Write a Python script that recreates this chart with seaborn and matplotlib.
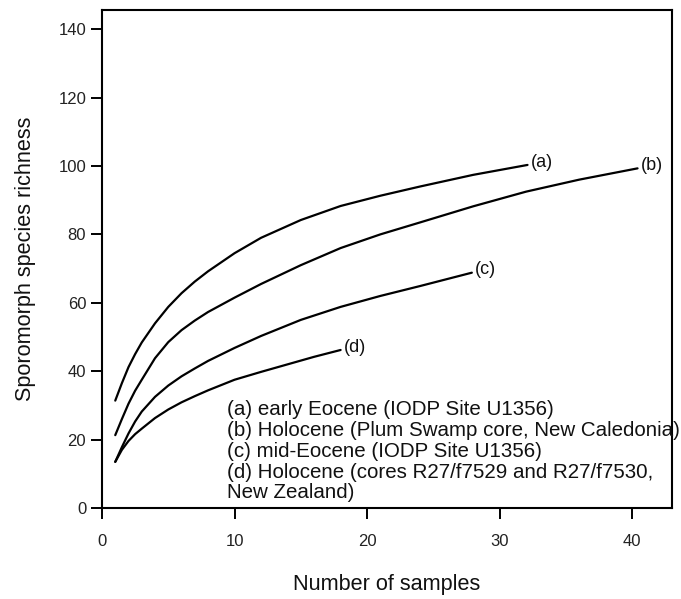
import matplotlib
matplotlib.use("Agg")
import matplotlib.pyplot as plt
import seaborn as sns
import pandas as pd

# ---- data (rarefaction curves) ----
a_x = [1, 1.5, 2, 2.5, 3, 4, 5, 6, 7, 8, 10, 12, 15, 18, 21, 24, 28, 32.1]
a_y = [31.4, 36.5, 41.2, 45.0, 48.4, 54.0, 58.8, 62.8, 66.2, 69.2, 74.5, 79.0, 84.2, 88.3, 91.3, 94.0, 97.4, 100.3]

b_x = [1, 1.5, 2, 2.5, 3, 4, 5, 6, 7, 8, 10, 12, 15, 18, 21, 24, 28, 32, 36, 40.4]
b_y = [21.3, 26.0, 30.5, 34.3, 37.5, 43.8, 48.5, 52.0, 54.8, 57.3, 61.5, 65.5, 71.0, 76.0, 80.0, 83.5, 88.2, 92.5, 96.0, 99.3]

c_x = [1, 1.5, 2, 2.5, 3, 4, 5, 6, 7, 8, 10, 12, 15, 18, 21, 24, 27.9]
c_y = [13.5, 17.8, 21.8, 25.3, 28.2, 32.5, 35.8, 38.5, 40.8, 43.0, 46.8, 50.3, 55.0, 58.8, 62.0, 64.9, 68.8]

d_x = [1, 1.5, 2, 2.5, 3, 4, 5, 6, 7, 8, 10, 12, 14, 16, 18]
d_y = [13.5, 17.0, 19.6, 21.6, 23.2, 26.3, 28.8, 30.9, 32.7, 34.4, 37.5, 39.8, 42.0, 44.2, 46.2]

curve_labels = ["(a)", "(b)", "(c)", "(d)"]
legend_lines = [
    "(a) early Eocene (IODP Site U1356)",
    "(b) Holocene (Plum Swamp core, New Caledonia)",
    "(c) mid-Eocene (IODP Site U1356)",
    "(d) Holocene (cores R27/f7529 and R27/f7530,",
    "New Zealand)",
]
x_ticks = [0, 10, 20, 30, 40]
y_ticks = [0, 20, 40, 60, 80, 100, 120, 140]
x_label = "Number of samples"
y_label = "Sporomorph species richness"

# ---- build long-form table ----
series = [(a_x, a_y), (b_x, b_y), (c_x, c_y), (d_x, d_y)]
frames = []
for lab, (xs, ys) in zip(curve_labels, series):
    frames.append(pd.DataFrame({"samples": xs, "richness": ys, "curve": lab}))
df = pd.concat(frames, ignore_index=True)

sns.set_style("ticks")
plt.rcParams["font.family"] = ["Liberation Sans", "DejaVu Sans"]
plt.rcParams["axes.linewidth"] = 1.5

fig = plt.figure(figsize=(6.81, 5.99), dpi=100)
ax = fig.add_axes([102 / 681, 91 / 599, 570 / 681, 498 / 599])

sns.lineplot(data=df, x="samples", y="richness", hue="curve",
             palette=["black"] * 4, linewidth=1.6, legend=False,
             sort=True, estimator=None, ax=ax)

ax.set_xlim(0, 43)
ax.set_ylim(0, 145.6)
ax.set_xticks(x_ticks)
ax.set_yticks(y_ticks)
for s in ax.spines.values():
    s.set_visible(True)
    s.set_color("black")
    s.set_linewidth(1.5)

ax.tick_params(axis="x", direction="out", length=8, width=1.4, pad=11,
               labelsize=12, colors="black", labelcolor="#222222")
ax.tick_params(axis="y", direction="out", length=8, width=1.4, pad=3.4,
               labelsize=12, colors="black", labelcolor="#222222")

ax.set_xlabel(x_label, fontsize=15.6, labelpad=18, color="#111111")
ax.set_ylabel(y_label, fontsize=15.6, labelpad=16, color="#111111")

# end-of-curve labels
for lab, (xs, ys) in zip(curve_labels, series):
    ax.annotate(lab, xy=(xs[-1], ys[-1]), xytext=(2.5, 2),
                textcoords="offset points", ha="left", va="center",
                fontsize=13, color="#111111")

ax.text(9.4, 31.5, "\n".join(legend_lines), ha="left", va="top",
        fontsize=14.8, linespacing=1.12, color="#111111")

fig.savefig("out.png", dpi=100)
